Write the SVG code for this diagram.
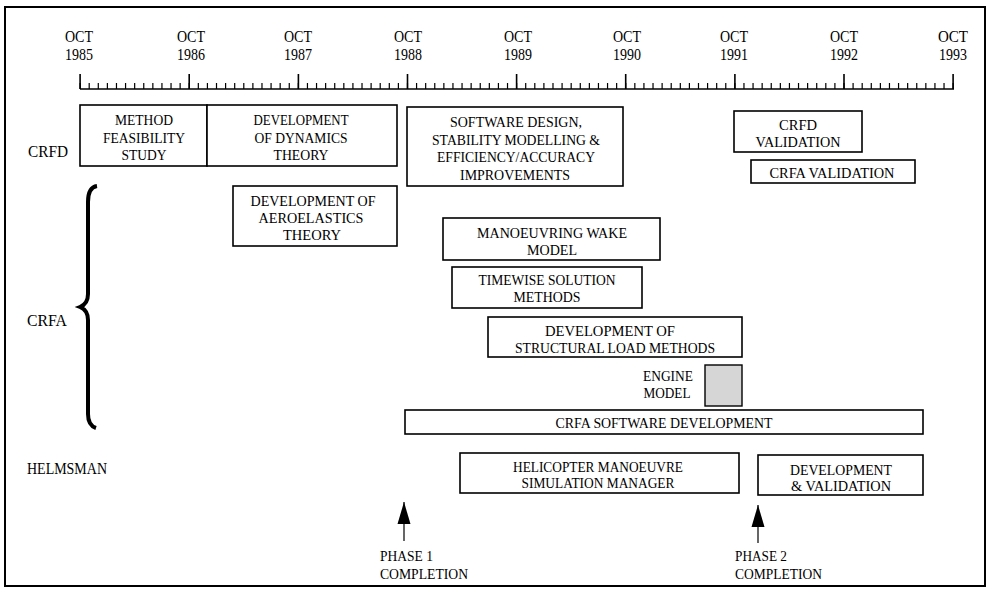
<svg xmlns="http://www.w3.org/2000/svg" width="987" height="590" viewBox="0 0 987 590">
<defs>
<style>
text{font-family:"Liberation Serif","Times New Roman",serif;fill:#000}
.yr{font-size:16px;text-anchor:middle}
.bx{font-size:15px;text-anchor:middle}
.lb{font-size:17px}
.ph{font-size:14px}
.box{fill:#fff;stroke:#000;stroke-width:1.6}
.eng{fill:#d6d6d6;stroke:#000;stroke-width:1.4}
.ln{stroke:#000;fill:none}
</style>
<marker id="ah" markerUnits="userSpaceOnUse" markerWidth="22" markerHeight="14" refX="22" refY="7" orient="auto"><path d="M0,0.5 L22,7 L0,13.5 Z" fill="#000"/></marker>
</defs>
<rect x="0" y="0" width="987" height="590" fill="#fff"/>
<rect x="5" y="7" width="980" height="579" fill="none" stroke="#000" stroke-width="2"/>

<g id="axis">
<g class="yr">
<text x="79" y="42" textLength="28" lengthAdjust="spacingAndGlyphs">OCT</text><text x="79" y="60" textLength="28" lengthAdjust="spacingAndGlyphs">1985</text>
<text x="191" y="42" textLength="28" lengthAdjust="spacingAndGlyphs">OCT</text><text x="191" y="60" textLength="28" lengthAdjust="spacingAndGlyphs">1986</text>
<text x="298" y="42" textLength="28" lengthAdjust="spacingAndGlyphs">OCT</text><text x="298" y="60" textLength="28" lengthAdjust="spacingAndGlyphs">1987</text>
<text x="408" y="42" textLength="28" lengthAdjust="spacingAndGlyphs">OCT</text><text x="408" y="60" textLength="28" lengthAdjust="spacingAndGlyphs">1988</text>
<text x="518" y="42" textLength="28" lengthAdjust="spacingAndGlyphs">OCT</text><text x="518" y="60" textLength="28" lengthAdjust="spacingAndGlyphs">1989</text>
<text x="627" y="42" textLength="28" lengthAdjust="spacingAndGlyphs">OCT</text><text x="627" y="60" textLength="28" lengthAdjust="spacingAndGlyphs">1990</text>
<text x="734" y="42" textLength="28" lengthAdjust="spacingAndGlyphs">OCT</text><text x="734" y="60" textLength="28" lengthAdjust="spacingAndGlyphs">1991</text>
<text x="844" y="42" textLength="28" lengthAdjust="spacingAndGlyphs">OCT</text><text x="844" y="60" textLength="28" lengthAdjust="spacingAndGlyphs">1992</text>
<text x="953" y="42" textLength="30" lengthAdjust="spacingAndGlyphs">OCT</text><text x="953" y="60" textLength="28" lengthAdjust="spacingAndGlyphs">1993</text>
</g>
<line x1="79.5" y1="86" x2="954" y2="86" stroke="#000" stroke-width="6" stroke-dasharray="1.2 7.894"/>
<line x1="80" y1="89" x2="954" y2="89" stroke="#000" stroke-width="1.5"/>
<path class="ln" stroke-width="1.6" d="M80.1,74V89 M189.2,74V89 M298.4,74V89 M407.5,74V89 M516.6,74V89 M625.7,74V89 M734.9,74V89 M844,74V89 M953.1,74V89"/>
</g>

<g id="row-labels">
<text class="lb" x="28" y="157" textLength="40" lengthAdjust="spacingAndGlyphs">CRFD</text>
<text class="lb" x="27" y="326" textLength="40" lengthAdjust="spacingAndGlyphs">CRFA</text>
<text class="lb" x="27" y="474" textLength="80" lengthAdjust="spacingAndGlyphs">HELMSMAN</text>
<path class="ln" stroke-width="4" d="M97,186 C90,187 88,193 88,202 L88,294 C88,301 85,305 80,307 C85,309 88,313 88,320 L88,414 C88,421 90,426 96,428"/>
</g>

<g id="method-feasibility">
<rect class="box" x="80" y="105" width="127" height="61"/>
<text class="bx" x="144" y="125" textLength="58" lengthAdjust="spacingAndGlyphs">METHOD</text>
<text class="bx" x="144" y="143" textLength="82" lengthAdjust="spacingAndGlyphs">FEASIBILITY</text>
<text class="bx" x="144" y="160" textLength="45" lengthAdjust="spacingAndGlyphs">STUDY</text>
</g>
<g id="dynamics-theory">
<rect class="box" x="207" y="105" width="190" height="61"/>
<text class="bx" x="301" y="125" textLength="95" lengthAdjust="spacingAndGlyphs">DEVELOPMENT</text>
<text class="bx" x="301" y="143" textLength="93" lengthAdjust="spacingAndGlyphs">OF DYNAMICS</text>
<text class="bx" x="301" y="160" textLength="55" lengthAdjust="spacingAndGlyphs">THEORY</text>
</g>
<g id="aeroelastics-theory">
<rect class="box" x="233" y="186" width="164" height="60"/>
<text class="bx" x="313" y="206" textLength="125" lengthAdjust="spacingAndGlyphs">DEVELOPMENT OF</text>
<text class="bx" x="311" y="223" textLength="105" lengthAdjust="spacingAndGlyphs">AEROELASTICS</text>
<text class="bx" x="312" y="240" textLength="58" lengthAdjust="spacingAndGlyphs">THEORY</text>
</g>
<g id="software-design">
<rect class="box" x="407" y="107" width="216" height="79"/>
<text class="bx" x="516" y="127" textLength="132" lengthAdjust="spacingAndGlyphs">SOFTWARE DESIGN,</text>
<text class="bx" x="516" y="145" textLength="168" lengthAdjust="spacingAndGlyphs">STABILITY MODELLING &amp;</text>
<text class="bx" x="516" y="162" textLength="158" lengthAdjust="spacingAndGlyphs">EFFICIENCY/ACCURACY</text>
<text class="bx" x="515" y="180" textLength="110" lengthAdjust="spacingAndGlyphs">IMPROVEMENTS</text>
</g>
<g id="crfd-validation">
<rect class="box" x="734" y="111" width="128" height="41"/>
<text class="bx" x="798" y="130" textLength="38" lengthAdjust="spacingAndGlyphs">CRFD</text>
<text class="bx" x="798" y="147" textLength="85" lengthAdjust="spacingAndGlyphs">VALIDATION</text>
</g>
<g id="crfa-validation">
<rect class="box" x="751" y="160" width="164" height="23"/>
<text class="bx" x="832" y="178" textLength="125" lengthAdjust="spacingAndGlyphs">CRFA VALIDATION</text>
</g>
<g id="manoeuvring-wake">
<rect class="box" x="443" y="218" width="217" height="42"/>
<text class="bx" x="552" y="238" textLength="150" lengthAdjust="spacingAndGlyphs">MANOEUVRING WAKE</text>
<text class="bx" x="552" y="255" textLength="50" lengthAdjust="spacingAndGlyphs">MODEL</text>
</g>
<g id="timewise-solution">
<rect class="box" x="452" y="267" width="190" height="41"/>
<text class="bx" x="547" y="285" textLength="137" lengthAdjust="spacingAndGlyphs">TIMEWISE SOLUTION</text>
<text class="bx" x="547" y="302" textLength="67" lengthAdjust="spacingAndGlyphs">METHODS</text>
</g>
<g id="structural-load">
<rect class="box" x="488" y="317" width="254" height="40"/>
<text class="bx" x="610" y="336" textLength="130" lengthAdjust="spacingAndGlyphs">DEVELOPMENT OF</text>
<text class="bx" x="615" y="353" textLength="200" lengthAdjust="spacingAndGlyphs">STRUCTURAL LOAD METHODS</text>
</g>
<g id="engine-model">
<rect class="eng" x="705" y="365" width="37" height="41"/>
<text class="bx" x="668" y="381" textLength="50" lengthAdjust="spacingAndGlyphs">ENGINE</text>
<text class="bx" x="667" y="398" textLength="47" lengthAdjust="spacingAndGlyphs">MODEL</text>
</g>
<g id="crfa-software">
<rect class="box" x="405" y="410" width="518" height="24"/>
<text class="bx" x="664" y="428" textLength="217" lengthAdjust="spacingAndGlyphs">CRFA SOFTWARE DEVELOPMENT</text>
</g>
<g id="helicopter-manager">
<rect class="box" x="460" y="453" width="279" height="40"/>
<text class="bx" x="598" y="472" textLength="170" lengthAdjust="spacingAndGlyphs">HELICOPTER MANOEUVRE</text>
<text class="bx" x="598" y="488" textLength="153" lengthAdjust="spacingAndGlyphs">SIMULATION MANAGER</text>
</g>
<g id="development-validation">
<rect class="box" x="758" y="455" width="165" height="40"/>
<text class="bx" x="841" y="475" textLength="102" lengthAdjust="spacingAndGlyphs">DEVELOPMENT</text>
<text class="bx" x="841" y="491" textLength="100" lengthAdjust="spacingAndGlyphs">&amp; VALIDATION</text>
</g>

<g id="phase-1">
<text class="ph" x="380" y="561" textLength="53" lengthAdjust="spacingAndGlyphs">PHASE 1</text>
<text class="ph" x="380" y="579" textLength="88" lengthAdjust="spacingAndGlyphs">COMPLETION</text>
</g>
<g id="phase-2">
<text class="ph" x="735" y="561" textLength="52" lengthAdjust="spacingAndGlyphs">PHASE 2</text>
<text class="ph" x="735" y="579" textLength="87" lengthAdjust="spacingAndGlyphs">COMPLETION</text>
</g>

<g id="connectors">
<path class="ln" stroke-width="1.2" marker-end="url(#ah)" d="M404,541 V502"/>
<path class="ln" stroke-width="1.2" marker-end="url(#ah)" d="M758,543 V505"/>
</g>
</svg>
